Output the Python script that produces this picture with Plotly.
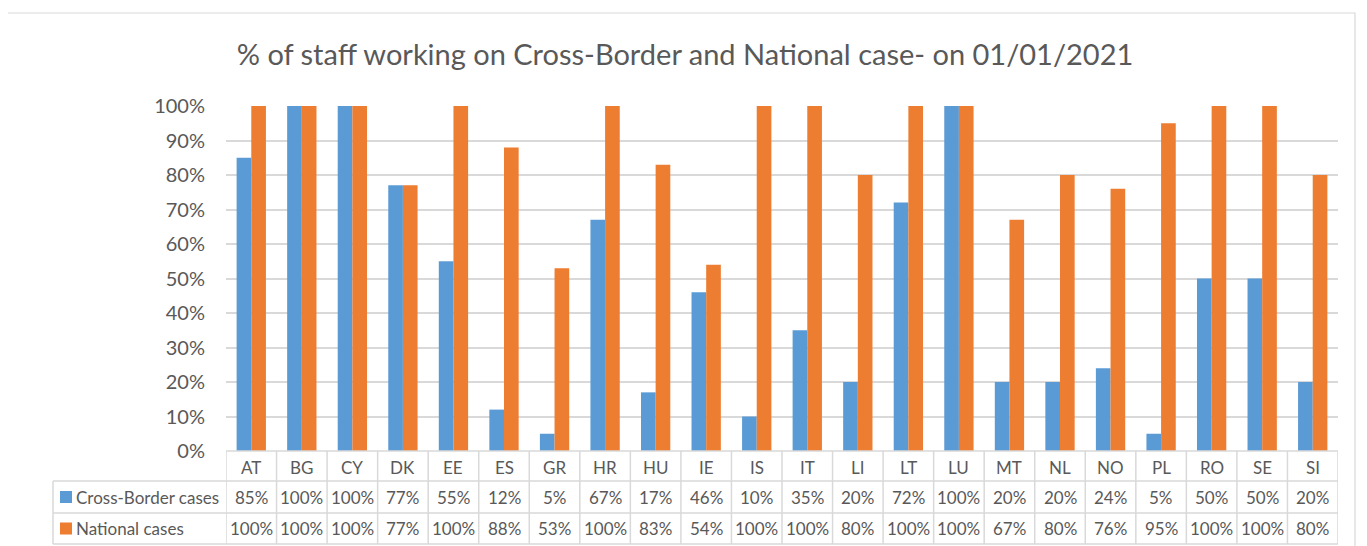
import plotly.graph_objects as go

countries = ["AT", "BG", "CY", "DK", "EE", "ES", "GR", "HR", "HU", "IE", "IS",
             "IT", "LI", "LT", "LU", "MT", "NL", "NO", "PL", "RO", "SE", "SI"]
cross_border = [85, 100, 100, 77, 55, 12, 5, 67, 17, 46, 10,
                35, 20, 72, 100, 20, 20, 24, 5, 50, 50, 20]
national = [100, 100, 100, 77, 100, 88, 53, 100, 83, 54, 100,
            100, 80, 100, 100, 67, 80, 76, 95, 100, 100, 80]
series_names = ["Cross-Border cases", "National cases"]
title_text = "% of staff working on Cross-Border and National case- on 01/01/2021"

BLUE = "#5B9BD5"
ORANGE = "#ED7D31"
GRID = "#D9D9D9"
TXT = "#595959"
FONT = "Lato, 'Open Sans', sans-serif"

OFF = 8  # page body margin offset
W, H = 1367 - OFF, 546 - OFF
L, R, T, B = 226 - OFF, 1338 - OFF, 106 - OFF, 451 - OFF
pw, ph = R - L, B - T

def px_x(p):  # reference pixel -> paper x
    return (p - OFF - L) / pw

def px_y(p):  # reference pixel -> paper y
    return (B - (p - OFF)) / ph

fig = go.Figure()
fig.add_trace(go.Bar(x=countries, y=[v / 100 for v in cross_border], name=series_names[0],
                     marker_color=BLUE, marker_line_width=0))
fig.add_trace(go.Bar(x=countries, y=[v / 100 for v in national], name=series_names[1],
                     marker_color=ORANGE, marker_line_width=0))

shapes = []
annotations = []

# outer chart border
shapes.append(dict(type="rect", xref="paper", yref="paper",
                   x0=px_x(7), x1=px_x(1355), y0=px_y(570), y1=px_y(13),
                   line=dict(color=GRID, width=1.2), layer="below"))

n = len(countries)
row_y = [451, 481, 513, 544]
first_col_left = 53
# data-table vertical lines
for i in range(n + 1):
    shapes.append(dict(type="line", xref="x", yref="paper", x0=i - 0.5, x1=i - 0.5,
                       y0=px_y(row_y[0]), y1=px_y(row_y[3]), line=dict(color=GRID, width=1.5)))
shapes.append(dict(type="line", xref="paper", yref="paper", x0=px_x(first_col_left), x1=px_x(first_col_left),
                   y0=px_y(row_y[1]), y1=px_y(row_y[3]), line=dict(color=GRID, width=1.5)))
# horizontal lines
shapes.append(dict(type="line", xref="paper", yref="paper", x0=0, x1=1,
                   y0=px_y(row_y[0]), y1=px_y(row_y[0]), line=dict(color=GRID, width=1.5)))
for ry in row_y[1:]:
    shapes.append(dict(type="line", xref="paper", yref="paper", x0=px_x(first_col_left), x1=1,
                       y0=px_y(ry), y1=px_y(ry), line=dict(color=GRID, width=1.5)))

# header labels
for c in countries:
    annotations.append(dict(x=c, xref="x", y=px_y((row_y[0] + row_y[1]) / 2 + 1), yref="paper",
                            text=c, showarrow=False, font=dict(size=17, color=TXT, family=FONT),
                            xanchor="center", yanchor="middle"))
# value rows
for r, (vals, color, name) in enumerate([(cross_border, BLUE, series_names[0]),
                                         (national, ORANGE, series_names[1])]):
    ymid = (row_y[r + 1] + row_y[r + 2]) / 2
    for c, v in zip(countries, vals):
        annotations.append(dict(x=c, xref="x", y=px_y(ymid), yref="paper",
                                text=f"{v}%", showarrow=False,
                                font=dict(size=17, color=TXT, family=FONT),
                                xanchor="center", yanchor="middle"))
    shapes.append(dict(type="rect", xref="paper", yref="paper",
                       x0=px_x(60), x1=px_x(72), y0=px_y(ymid + 6), y1=px_y(ymid - 6),
                       fillcolor=color, line=dict(width=0)))
    annotations.append(dict(x=px_x(74), xref="paper", y=px_y(ymid), yref="paper",
                            text=name, showarrow=False,
                            font=dict(size=17, color=TXT, family=FONT),
                            xanchor="left", yanchor="middle"))

fig.update_layout(
    width=W, height=H,
    margin=dict(l=L, r=W - R, t=T, b=H - B, pad=0),
    paper_bgcolor="white", plot_bgcolor="white",
    barmode="group", bargap=0.42, bargroupgap=0,
    showlegend=False,
    title=dict(text=title_text, x=(685 - OFF) / W, xref="container", xanchor="center",
               y=1 - (55 - OFF) / H, yanchor="middle",
               font=dict(size=29, color=TXT, family=FONT)),
    xaxis=dict(range=[-0.5, n - 0.5], showticklabels=False, showgrid=False,
               zeroline=False, showline=False, ticks=""),
    yaxis=dict(range=[0, 1], dtick=0.1, tickformat=".0%", showgrid=True,
               gridcolor=GRID, gridwidth=1.5, zeroline=False, showline=False,
               ticks="", ticklabelstandoff=20,
               tickfont=dict(size=20, color=TXT, family=FONT)),
    shapes=shapes, annotations=annotations,
    font=dict(family=FONT, color=TXT),
)

fig.write_html("out.html")
